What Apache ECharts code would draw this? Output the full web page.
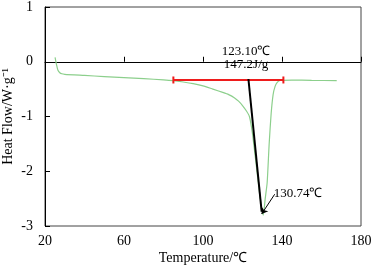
<!DOCTYPE html>
<html><head><meta charset="utf-8">
<script src="https://cdn.jsdelivr.net/npm/echarts@6/dist/echarts.min.js"></script>
<style>html,body{margin:0;padding:0;background:#fff}#c{width:373px;height:267px}</style>
</head><body><div id="c"></div>
<script>
const xTicks = [20, 60, 100, 140, 180];
const yTicks = [-3, -2, -1, 0, 1];
const temps = [25.1,25.8,26.5,27.5,28.5,30,40,50,60,70,80,85,90,95,100,105,110,113,116,118,120,122,123.5,125,127,129,130.5,131.5,132.5,133.5,134.5,135.5,136.5,137.5,139,145,155,167.7];
const heatFlow = [0.08,-0.05,-0.15,-0.2,-0.22,-0.23,-0.25,-0.27,-0.29,-0.31,-0.33,-0.345,-0.37,-0.40,-0.44,-0.50,-0.56,-0.60,-0.66,-0.72,-0.80,-0.90,-1.0,-1.3,-1.9,-2.5,-2.8,-2.5,-2.2,-1.5,-0.95,-0.6,-0.45,-0.38,-0.34,-0.335,-0.34,-0.345];
const baseLine = [[85, -0.333], [140.7, -0.333]];
const tangentLine = [[123, -0.315], [129.7, -2.74]];
const arrowFrom = [136.3, -2.42];
const arrowTo = [129.7, -2.78];
const labelEnthalpyA = '123.10℃';
const labelEnthalpyB = '147.2J/g';
const labelPeak = '130.74℃';
const labelPosA = [121.8, 0.185];
const labelPosB = [121.8, -0.06];
const labelPosPeak = [135.8, -2.40];

const font = '"Liberation Serif", "Times New Roman", serif';
const chart = echarts.init(document.getElementById('c'));
const txtSeries = (pos, text, align) => ({
  type: 'scatter', data: [pos], symbolSize: 0, silent: true,
  itemStyle: { color: '#000', opacity: 1 },
  label: { show: true, formatter: text, position: 'inside', align: align, verticalAlign: 'middle',
    fontFamily: font, fontSize: 13, color: '#000', opacity: 1, textBorderWidth: 0, textBorderColor: 'transparent' }
});
chart.setOption({
  animation: false,
  grid: { left: 45, right: 12, top: 7, bottom: 41, show: true, borderColor: '#444', borderWidth: 1, outerBoundsMode: 'none', containLabel: false },
  xAxis: {
    type: 'value', min: 20, max: 180, interval: 40,
    name: 'Temperature/℃', nameLocation: 'middle', nameGap: 25, nameMoveOverlap: false,
    nameTextStyle: { fontFamily: font, fontSize: 14, color: '#000' },
    axisLine: { lineStyle: { color: '#000' } },
    axisTick: { inside: true, length: 5, lineStyle: { color: '#000' } },
    axisLabel: { fontFamily: font, fontSize: 14, color: '#000', margin: 8 },
    splitLine: { show: false }
  },
  yAxis: {
    type: 'value', min: -3, max: 1, interval: 1,
    name: 'Heat Flow/W·g⁻¹', nameLocation: 'middle', nameGap: 30, nameMoveOverlap: false,
    nameTextStyle: { fontFamily: font, fontSize: 14, color: '#000' },
    axisLine: { show: true, lineStyle: { color: '#000' } },
    axisTick: { show: true, inside: true, length: 5, lineStyle: { color: '#000' } },
    axisLabel: { fontFamily: font, fontSize: 14, color: '#000', margin: 12 },
    splitLine: { show: false }
  },
  series: [
    { type: 'line', data: temps.map((t, i) => [t, heatFlow[i]]), showSymbol: false, smooth: 0.2,
      lineStyle: { color: '#8ccf8c', width: 1.2 } },
    { type: 'line', data: baseLine, symbol: 'rect', symbolSize: [2, 7], showSymbol: true,
      itemStyle: { color: '#ee1c1c' }, lineStyle: { color: '#ee1c1c', width: 2 } },
    { type: 'line', data: tangentLine, showSymbol: false, lineStyle: { color: '#000', width: 2 } },
    { type: 'line', data: [], markLine: { silent: true, symbol: ['none', 'arrow'], symbolSize: 6,
        label: { show: false }, lineStyle: { color: '#000', width: 1, type: 'solid' },
        data: [[{ coord: arrowFrom }, { coord: arrowTo }]] } },
    txtSeries(labelPosA, labelEnthalpyA, 'center'),
    txtSeries(labelPosB, labelEnthalpyB, 'center'),
    txtSeries(labelPosPeak, labelPeak, 'left')
  ]
});
</script></body></html>
